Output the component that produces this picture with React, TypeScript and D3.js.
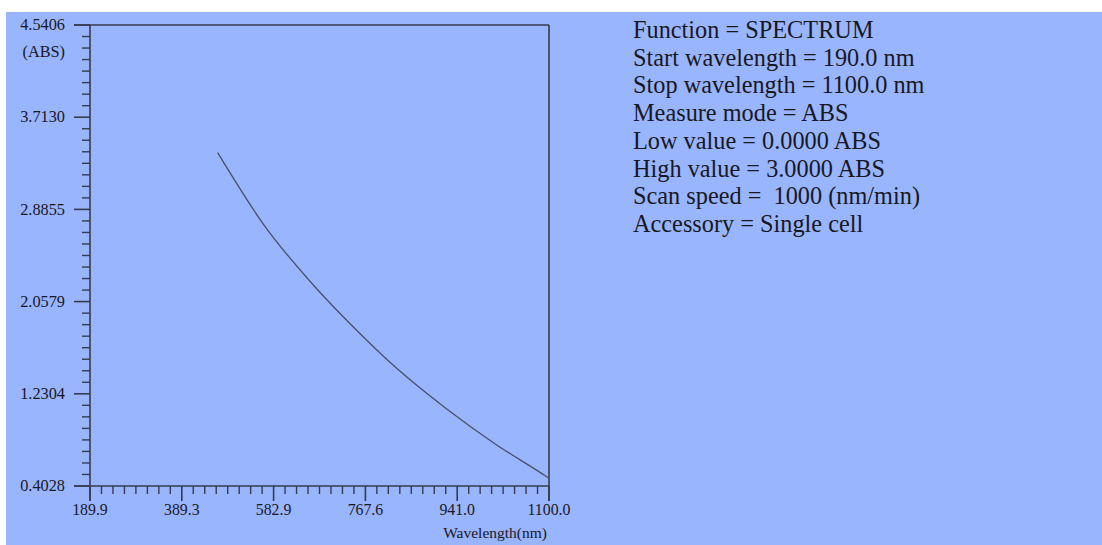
import React from "react";
import * as d3 from "d3";

const xTickValues = [189.9, 389.3, 582.9, 767.6, 941.0, 1100.0];
const xTickLabels = ["189.9", "389.3", "582.9", "767.6", "941.0", "1100.0"];
const yTickValues = [0.4028, 1.2304, 2.0579, 2.8855, 3.713, 4.5406];
const yTickLabels = ["0.4028", "1.2304", "2.0579", "2.8855", "3.7130", "4.5406"];

const wavelengths = [465.0, 561.2, 662.8, 743.3, 826.7, 921.2, 1009.4, 1096.0, 1100.0];
const absorbance = [3.395, 2.754, 2.207, 1.83, 1.459, 1.094, 0.771, 0.486, 0.472];

const infoLines = [
  "Function = SPECTRUM",
  "Start wavelength = 190.0 nm",
  "Stop wavelength = 1100.0 nm",
  "Measure mode = ABS",
  "Low value = 0.0000 ABS",
  "High value = 3.0000 ABS",
  "Scan speed =  1000 (nm/min)",
  "Accessory = Single cell",
];

const W = 1102;
const H = 545;
const left = 90;
const right = 549;
const top = 25;
const bottom = 486;

const BG = "#99b5fe";
const AX = "#363c4e";
const TXT = "#18181e";
const FONT = "'Liberation Serif', 'Times New Roman', serif";

export default function App() {
  const xScale = d3
    .scaleLinear()
    .domain(xTickValues)
    .range(xTickValues.map((_, i) => left + (i * (right - left)) / (xTickValues.length - 1)));
  const yScale = d3
    .scaleLinear()
    .domain([yTickValues[0], yTickValues[yTickValues.length - 1]])
    .range([bottom, top]);

  const minorX: number[] = [];
  for (let i = 0; i < xTickValues.length - 1; i++) {
    for (let k = 1; k < 8; k++) minorX.push(xTickValues[i] + ((xTickValues[i + 1] - xTickValues[i]) * k) / 8);
  }
  const minorY: number[] = [];
  for (let i = 0; i < yTickValues.length - 1; i++) {
    for (let k = 1; k < 8; k++) minorY.push(yTickValues[i] + ((yTickValues[i + 1] - yTickValues[i]) * k) / 8);
  }

  const pts = wavelengths.map((w, i) => [w, absorbance[i]] as [number, number]);
  const line = d3
    .line<[number, number]>()
    .x((d) => xScale(d[0]))
    .y((d) => yScale(d[1]))
    .curve(d3.curveMonotoneX);

  return (
    <svg
      width={W}
      height={H}
      style={{ position: "absolute", left: 0, top: 0, background: "#fff" }}
      fontFamily={FONT}
    >
      <rect x={6} y={12} width={W - 6} height={H - 12} fill={BG} />
      {/* frame */}
      <line x1={left - 16} x2={right} y1={top} y2={top} stroke={AX} strokeWidth={1.6} />
      <line x1={left - 16} x2={right} y1={bottom} y2={bottom} stroke={AX} strokeWidth={1.6} />
      <line x1={left} x2={left} y1={top} y2={bottom + 15} stroke={AX} strokeWidth={1.6} />
      <line x1={right} x2={right} y1={top} y2={bottom + 15} stroke={AX} strokeWidth={1.6} />
      {/* y ticks */}
      {yTickValues.map((v, i) => (
        <g key={"ym" + i}>
          <line x1={left - 16} x2={left} y1={yScale(v)} y2={yScale(v)} stroke={AX} strokeWidth={1.6} />
          <text x={65} y={yScale(v)} dy="0.32em" textAnchor="end" fontSize={16.3} fill={TXT}>
            {yTickLabels[i]}
          </text>
        </g>
      ))}
      {minorY.map((v, i) => (
        <line key={"yn" + i} x1={left - 8} x2={left} y1={yScale(v)} y2={yScale(v)} stroke={AX} strokeWidth={1.4} />
      ))}
      <text x={65} y={57} textAnchor="end" fontSize={16.3} fill={TXT}>
        (ABS)
      </text>
      {/* x ticks */}
      {xTickValues.map((v, i) => (
        <g key={"xm" + i}>
          <line x1={xScale(v)} x2={xScale(v)} y1={bottom} y2={bottom + 15} stroke={AX} strokeWidth={1.6} />
          <text x={xScale(v)} y={515} textAnchor="middle" fontSize={15.8} fill={TXT}>
            {xTickLabels[i]}
          </text>
        </g>
      ))}
      {minorX.map((v, i) => (
        <line key={"xn" + i} x1={xScale(v)} x2={xScale(v)} y1={bottom} y2={bottom + 8} stroke={AX} strokeWidth={1.4} />
      ))}
      <text x={547} y={538} textAnchor="end" fontSize={15.5} fill={TXT}>
        Wavelength(nm)
      </text>
      {/* spectrum */}
      <path d={line(pts) || ""} fill="none" stroke="#4a5068" strokeWidth={1.3} />
      {/* info block */}
      {infoLines.map((t, i) => (
        <text key={"info" + i} x={633} y={38 + i * 27.7} fontSize={24.3} fill={TXT} style={{ whiteSpace: "pre" }}>
          {t}
        </text>
      ))}
    </svg>
  );
}
